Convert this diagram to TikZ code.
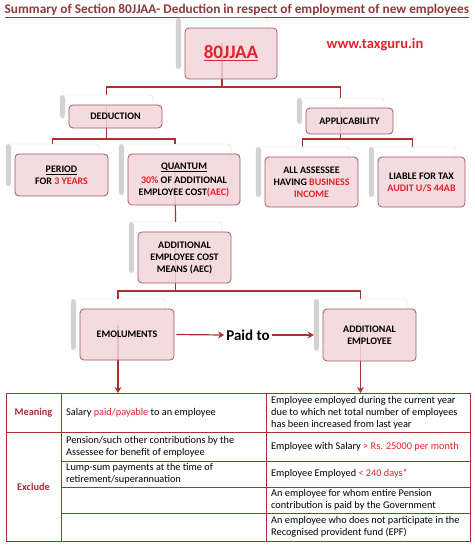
\documentclass[tikz,border=0pt]{standalone}
\usepackage{fontspec}
\setmainfont{Carlito}
\usetikzlibrary{arrows.meta}

\definecolor{wine}{HTML}{A8322F}
\definecolor{cardline}{HTML}{A45A5E}
\definecolor{cardfill}{HTML}{F2D5DA}
\definecolor{hot}{HTML}{E5222B}
\definecolor{titlered}{HTML}{8E3A3C}
\definecolor{rowhead}{HTML}{A2303E}

\tikzset{
  back/.style={draw=black!15, fill=white, rounded corners=3pt,
    path picture={\shade[left color=black!18, right color=white] (path picture bounding box.north west)
      rectangle ([xshift=5pt]path picture bounding box.south west);}},
  card/.style={draw=cardline, fill=cardfill, fill opacity=0.85, text opacity=1,
    rounded corners=4pt, line width=0.8pt, align=center, inner sep=2pt,
    font=\bfseries\fontsize{10}{12}\selectfont},
  link/.style={draw=wine, line width=1.2pt},
  flow/.style={link, -{Stealth[length=6pt,width=7pt]}},
  tab/.style={draw=wine, line width=1pt},
  cell/.style={anchor=west, align=left, inner sep=0pt, font=\fontsize{10.3}{12}\selectfont},
  head/.style={inner sep=0pt, text=rowhead, font=\bfseries\fontsize{10.3}{12}\selectfont}
}

\begin{document}
\begin{tikzpicture}[x=1pt, y=-1pt]
  \useasboundingbox[fill=white] (0,0) rectangle (474,545);

  % title and site
  \node[anchor=base west, inner sep=0pt, text=titlered,
    font=\bfseries\fontsize{13.3}{15}\selectfont] (title) at (4.5,13.5)
    {\underline{Summary of Section 80JJAA- Deduction in respect of employment of new employees}};
  \node[text=hot, font=\bfseries\fontsize{14.5}{17}\selectfont] (web) at (375,45) {www.taxguru.in};

  % back cards
  \foreach \n/\x/\y/\w/\h in {top/222/43.5/92/51, ded/106.5/106.5/93/23, app/340.5/111/87/26,
      per/52.5/165/93/42, qua/175/169.5/112/51, bus/302.5/172/93/50, lia/412.5/172/87/50,
      aec/175.5/247.5/93/51, emo/118/324.5/94/51, emp/360.5/325/93/52}
    \node[back, minimum width=\w, minimum height=\h] (\n b) at (\x,\y) {};

  % connectors
  \coordinate (bar1) at (0,87);
  \coordinate (bar2) at (0,139);
  \coordinate (bar3) at (0,291);
  \coordinate (tabtop) at (0,393);
  \draw[link] (topb.center) -- (topb.center |- bar1);
  \draw[link] (dedb.north) -- (dedb.north |- bar1) -- (appb.north |- bar1) -- (appb.north);
  \draw[link] (dedb.center) -- (dedb.center |- bar2);
  \draw[link] (perb.north) -- (perb.north |- bar2) -- (quab.north |- bar2) -- (quab.north);
  \draw[link] (appb.center) -- (appb.center |- bar2);
  \draw[link] (busb.north) -- (busb.north |- bar2) -- (liab.north |- bar2) -- (liab.north);
  \draw[link] (quab.center) -- (aecb.north);
  \draw[link] (aecb.center) -- (aecb.center |- bar3);
  \draw[link] (emob.north) -- (emob.north |- bar3) -- (empb.north |- bar3) -- (empb.north);
  \draw[flow] (emob.center) -- (emob.center |- tabtop);
  \draw[flow] (empb.center) -- (empb.center |- tabtop);

  % front cards
  \node[card, minimum width=92, minimum height=51, font=\bfseries\fontsize{19}{22}\selectfont]
    (top) at ([shift={(9,10)}]topb.center) {\textcolor{hot}{\underline{80JJAA}}};
  \node[card, minimum width=93, minimum height=23] (ded) at ([shift={(9,10)}]dedb.center) {DEDUCTION};
  \node[card, minimum width=87, minimum height=26] (app) at ([shift={(9,10)}]appb.center) {APPLICABILITY};
  \node[card, minimum width=93, minimum height=42] (per) at ([shift={(9,10)}]perb.center)
    {\underline{PERIOD}\\FOR \textcolor{hot}{3 YEARS}};
  \node[card, minimum width=112, minimum height=51] (qua) at ([shift={(9,10)}]quab.center)
    {\underline{QUANTUM}\\[2pt]\textcolor{hot}{30\%} OF ADDITIONAL\\EMPLOYEE COST\textcolor{hot}{(AEC)}};
  \node[card, minimum width=93, minimum height=50] (bus) at ([shift={(9,10)}]busb.center)
    {ALL ASSESSEE\\HAVING \textcolor{hot}{BUSINESS}\\\textcolor{hot}{INCOME}};
  \node[card, minimum width=87, minimum height=50] (lia) at ([shift={(9,10)}]liab.center)
    {LIABLE FOR TAX\\\textcolor{hot}{AUDIT U/S 44AB}};
  \node[card, minimum width=93, minimum height=51] (aec) at ([shift={(9,10)}]aecb.center)
    {ADDITIONAL\\EMPLOYEE COST\\MEANS (AEC)};
  \node[card, minimum width=94, minimum height=51] (emo) at ([shift={(9,10)}]emob.center) {EMOLUMENTS};
  \node[card, minimum width=93, minimum height=52] (emp) at ([shift={(9,10)}]empb.center)
    {ADDITIONAL\\EMPLOYEE};

  % paid to
  \node[inner sep=2pt, font=\bfseries\fontsize{15}{18}\selectfont] (paid) at (248,335) {Paid to};
  \draw[flow, shorten <=2pt] (emo.east) -- (paid.west);
  \draw[flow] (paid.east) -- (paid.east -| empb.west);

  % table
  \draw[tab] (6,393) rectangle (470,541);
  \draw[tab] (61,393) -- (61,541);
  \draw[tab] (266,393) -- (266,541);
  \draw[tab] (6,432) -- (470,432);
  \foreach \y in {461,487,513}
    \draw[tab] (61,\y) -- (470,\y);

  \node[head] (mean) at (33.5,412.5) {Meaning};
  \node[head] (excl) at (33.5,486.5) {Exclude};
  \node[cell] (sal) at (66,412.5) {Salary \textcolor{hot}{paid/payable} to an employee};
  \node[cell] (newemp) at (271,412.5) {Employee employed during the current year\\due to which net total number of employees\\has been increased from last year};
  \node[cell] (pen) at (66,446.5) {Pension/such other contributions by the\\Assessee for benefit of employee};
  \node[cell] (sal25) at (271,446.5) {Employee with Salary \textcolor{hot}{> Rs. 25000 per month}};
  \node[cell] (lump) at (66,474) {Lump-sum payments at the time of\\retirement/superannuation};
  \node[cell] (days) at (271,474) {Employee Employed \textcolor{hot}{< 240 days*}};
  \node[cell] (gov) at (271,500) {An employee for whom entire Pension\\contribution is paid by the Government};
  \node[cell] (epf) at (271,527) {An employee who does not participate in the\\Recognised provident fund (EPF)};
\end{tikzpicture}
\end{document}
